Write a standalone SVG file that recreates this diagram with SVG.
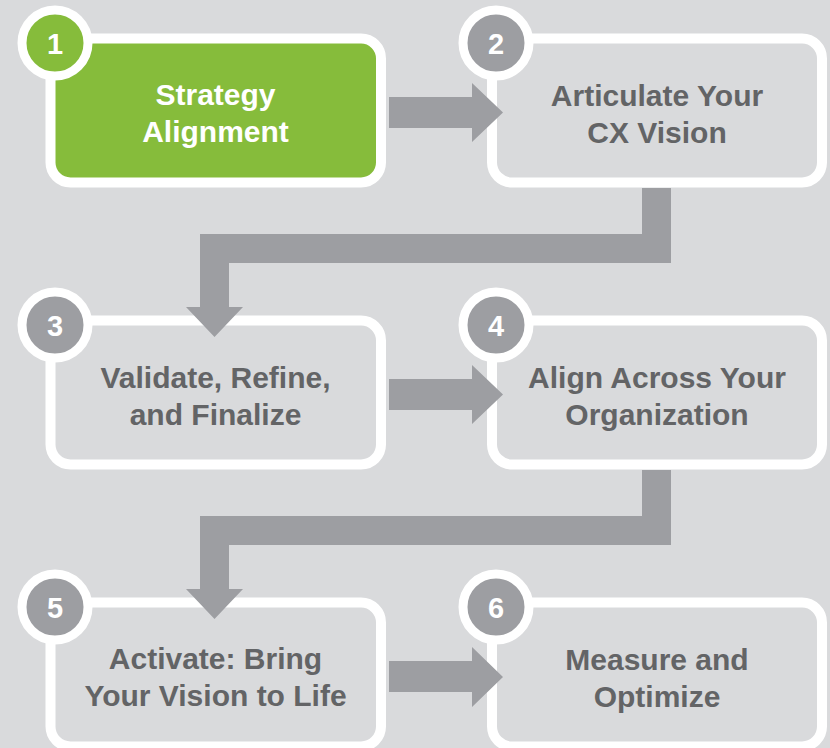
<svg xmlns="http://www.w3.org/2000/svg" width="830" height="748" viewBox="0 0 830 748">
<defs>
<style>
.box{fill:#d9dadc;stroke:#ffffff;stroke-width:10}
.green{fill:#86bc3b}
.num{fill:#9d9ea2;stroke:#ffffff;stroke-width:9}
.numg{fill:#86bc3b;stroke:#ffffff;stroke-width:9}
.ntxt{font-family:"Liberation Sans",Arial,sans-serif;font-size:29px;font-weight:bold;fill:#ffffff;text-anchor:middle}
.lbl{font-family:"Liberation Sans",Arial,sans-serif;font-size:30px;font-weight:bold;fill:#636466;text-anchor:middle}
.lblw{fill:#ffffff}
.conn{fill:#9d9ea2}
</style>
</defs>
<rect x="0" y="0" width="830" height="748" fill="#d9dadc"/>
<g id="node1">
<rect class="box green" x="50.5" y="38.5" width="330.5" height="144" rx="20"/>
<circle class="numg" cx="55" cy="43" r="33"/>
<text class="ntxt" x="55" y="54">1</text>
<text class="lbl lblw" x="215.5" y="105">Strategy</text>
<text class="lbl lblw" x="215.5" y="142">Alignment</text>
</g>
<g id="node2">
<rect class="box" x="492" y="38.5" width="330" height="144" rx="20"/>
<circle class="num" cx="496" cy="43" r="33"/>
<text class="ntxt" x="496" y="54">2</text>
<text class="lbl" x="657" y="106">Articulate Your</text>
<text class="lbl" x="657" y="143">CX Vision</text>
</g>
<g id="node3">
<rect class="box" x="50.5" y="320.5" width="330.5" height="144" rx="20"/>
<circle class="num" cx="55" cy="325" r="33"/>
<text class="ntxt" x="55" y="336">3</text>
<text class="lbl" x="215.5" y="388">Validate, Refine,</text>
<text class="lbl" x="215.5" y="425">and Finalize</text>
</g>
<g id="node4">
<rect class="box" x="492" y="320.5" width="330" height="144" rx="20"/>
<circle class="num" cx="496" cy="325" r="33"/>
<text class="ntxt" x="496" y="336">4</text>
<text class="lbl" x="657" y="388">Align Across Your</text>
<text class="lbl" x="657" y="425">Organization</text>
</g>
<g id="node5">
<rect class="box" x="50.5" y="602.5" width="330.5" height="144" rx="20"/>
<circle class="num" cx="55" cy="607" r="33"/>
<text class="ntxt" x="55" y="618">5</text>
<text class="lbl" x="215.5" y="669">Activate: Bring</text>
<text class="lbl" x="215.5" y="706">Your Vision to Life</text>
</g>
<g id="node6">
<rect class="box" x="492" y="602.5" width="330" height="144" rx="20"/>
<circle class="num" cx="496" cy="607" r="33"/>
<text class="ntxt" x="496" y="618">6</text>
<text class="lbl" x="657" y="670">Measure and</text>
<text class="lbl" x="657" y="707">Optimize</text>
</g>
<g id="connectors">
<polygon class="conn" points="389,97 472,97 472,83 503,112.5 472,142 472,128 389,128"/>
<polygon class="conn" points="389,379 472,379 472,365 503,394.5 472,424 472,410 389,410"/>
<polygon class="conn" points="389,661 472,661 472,647 503,677 472,707 472,692 389,692"/>
<polygon class="conn" points="642,188 671,188 671,263 229,263 229,307 243,307 214.5,337 186,307 200,307 200,234 642,234"/>
<polygon class="conn" points="642,470 671,470 671,545 229,545 229,589 243,589 214.5,619 186,589 200,589 200,516 642,516"/>
</g>
</svg>
